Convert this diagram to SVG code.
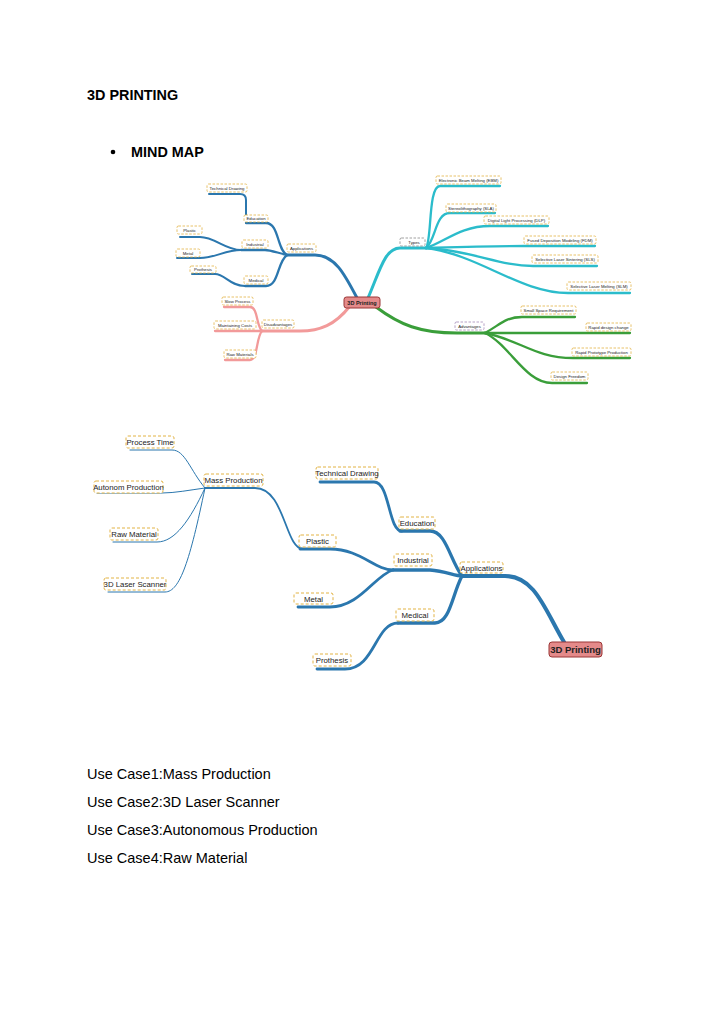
<svg xmlns="http://www.w3.org/2000/svg" width="724" height="1024" viewBox="0 0 724 1024">
<style>
.doc{font-family:"Liberation Sans",Arial,sans-serif;fill:#000}
.h{font-size:14.4px;font-weight:bold}
.p{font-size:14.5px}
.ln{fill:none;stroke-linecap:round}
.b{stroke:#2b77ae}
.c{stroke:#2bbccb}
.g{stroke:#3a9e3a}
.r{stroke:#f29a9a}
.lb rect{fill:#fff;stroke:#e2b345;stroke-width:0.8;stroke-dasharray:2.5 1.5}
.lb text{font-family:"Liberation Sans",Arial,sans-serif;fill:#222;text-anchor:middle}
.s text{font-size:4.3px}
.L text{font-size:7.8px}
.L rect{stroke-width:1;stroke-dasharray:3 2}
.ct rect{fill:#e48a8a;stroke:#9a3636}
.ct text{font-family:"Liberation Sans",Arial,sans-serif;font-weight:bold;fill:#222;text-anchor:middle}
</style>
<rect width="724" height="1024" fill="#fff"/>
<g id="header">
<text class="doc h" x="87" y="100">3D PRINTING</text>
<circle cx="113" cy="152" r="2.3" fill="#000"/>
<text class="doc h" x="131" y="157">MIND MAP</text>
</g>
<g id="connectors-top">
<path class="ln b" stroke-width="3" d="M357,298 C345,275 335,255 315,255 L287,255"/>
<path class="ln b" stroke-width="2.3" d="M287,255 C277,250 279,223 266,223 L246,223"/>
<path class="ln b" stroke-width="2" d="M246,223 L246,200 Q246,194 240,194 L209,194"/>
<path class="ln b" stroke-width="2.3" d="M287,255 C275,252 270,250 265,250 L241,250"/>
<path class="ln b" stroke-width="2" d="M241,250 C225,250 215,237 200,237 L180,237"/>
<path class="ln b" stroke-width="2" d="M241,250 C225,250 215,258 200,258 L177,258"/>
<path class="ln b" stroke-width="2.3" d="M287,255 C277,262 279,286 266,286 L245,286"/>
<path class="ln b" stroke-width="2" d="M245,286 C230,286 225,274 215,274 L192,274"/>
<path class="ln r" stroke-width="3" d="M350,306 C335,325 320,331 300,331 L262,331"/>
<path class="ln r" stroke-width="2.3" d="M262,331 C256,325 258,307 250,307 L224,307"/>
<path class="ln r" stroke-width="2.3" d="M262,331 L215,331"/>
<path class="ln r" stroke-width="2.3" d="M262,331 C256,337 258,360 250,360 L225,360"/>
<path class="ln c" stroke-width="3" d="M368,298 C380,270 385,248 400,248 L426,248"/>
<path class="ln c" stroke-width="2.3" d="M426,248 C432,240 428,186 440,186 L500,186"/>
<path class="ln c" stroke-width="2.3" d="M426,248 C436,240 435,213 450,213 L495,213"/>
<path class="ln c" stroke-width="2.3" d="M426,248 C445,242 460,226 490,226 L548,226"/>
<path class="ln c" stroke-width="2.3" d="M426,248 C460,247 490,246 525,246 L595,246"/>
<path class="ln c" stroke-width="2.3" d="M426,248 C470,250 500,266 533,266 L597,266"/>
<path class="ln c" stroke-width="2.3" d="M426,248 C480,255 520,293 568,293 L630,293"/>
<path class="ln g" stroke-width="3" d="M376,307 C400,325 420,333 457,333 L485,333"/>
<path class="ln g" stroke-width="2.3" d="M485,333 C500,325 505,317 522,317 L575,317"/>
<path class="ln g" stroke-width="2.3" d="M485,333 L630,333"/>
<path class="ln g" stroke-width="2.3" d="M485,333 C520,340 535,358 573,358 L630,358"/>
<path class="ln g" stroke-width="2.3" d="M485,333 C510,345 525,383 552,383 L587,383"/>
</g>
<g id="t-center" class="ct"><rect x="344" y="297" width="36" height="11" rx="2.5"/><text x="362" y="304.5" font-size="5.5">3D Printing</text></g>
<g id="t-applications" class="lb s"><rect x="287" y="244" width="29" height="8" rx="1.5"/><text x="301.5" y="249.6">Applications</text></g>
<g id="t-education" class="lb s"><rect x="244" y="215" width="24" height="7" rx="1.5"/><text x="256" y="220">Education</text></g>
<g id="t-techdraw" class="lb s"><rect x="207" y="184" width="40" height="8" rx="1.5"/><text x="227" y="189.6">Technical Drawing</text></g>
<g id="t-industrial" class="lb s"><rect x="242" y="240" width="26" height="8" rx="1.5"/><text x="255" y="245.6">Industrial</text></g>
<g id="t-plastic" class="lb s"><rect x="177" y="226" width="25" height="8" rx="1.5"/><text x="189.5" y="231.6">Plastic</text></g>
<g id="t-metal" class="lb s"><rect x="176" y="249" width="24" height="8" rx="1.5"/><text x="188" y="254.6">Metal</text></g>
<g id="t-prothesis" class="lb s"><rect x="190" y="266" width="26" height="7" rx="1.5"/><text x="203" y="271">Prothesis</text></g>
<g id="t-medical" class="lb s"><rect x="244" y="276" width="24" height="8" rx="1.5"/><text x="256" y="281.6">Medical</text></g>
<g id="t-disadv" class="lb s"><rect x="262" y="320" width="32" height="8" rx="1.5"/><text x="278" y="325.6">Disadvantages</text></g>
<g id="t-slow" class="lb s"><rect x="222" y="297" width="31" height="8" rx="1.5"/><text x="237.5" y="302.6">Slow Process</text></g>
<g id="t-maint" class="lb s"><rect x="214" y="321" width="42" height="8" rx="1.5"/><text x="235" y="326.6">Maintaining Costs</text></g>
<g id="t-raw" class="lb s"><rect x="224" y="350" width="32" height="8" rx="1.5"/><text x="240" y="355.6">Raw Materials</text></g>
<g id="t-types" class="lb s"><rect x="400" y="238" width="25" height="8" rx="1.5" style="stroke:#888"/><text x="414" y="243.6">Types</text></g>
<g id="t-ebm" class="lb s"><rect x="436" y="176" width="65" height="8" rx="1.5"/><text x="468.5" y="181.6">Electronic Beam Melting (EBM)</text></g>
<g id="t-sla" class="lb s"><rect x="446" y="204" width="50" height="8" rx="1.5"/><text x="471" y="209.6">Stereolithography (SLA)</text></g>
<g id="t-dlp" class="lb s"><rect x="484" y="216" width="65" height="8" rx="1.5"/><text x="516.5" y="221.6">Digital Light Processing (DLP)</text></g>
<g id="t-fdm" class="lb s"><rect x="524" y="236" width="72" height="8" rx="1.5"/><text x="560" y="241.6">Fused Deposition Modeling (FDM)</text></g>
<g id="t-sls" class="lb s"><rect x="532" y="255" width="66" height="8" rx="1.5"/><text x="565" y="260.6">Selective Laser Sintering (SLS)</text></g>
<g id="t-slm" class="lb s"><rect x="567" y="282" width="64" height="8" rx="1.5"/><text x="599" y="287.6">Selective Laser Melting (SLM)</text></g>
<g id="t-adv" class="lb s"><rect x="455" y="322" width="29" height="8" rx="1.5" style="stroke:#a58ab8"/><text x="469.5" y="327.6">Advantages</text></g>
<g id="t-small" class="lb s"><rect x="521" y="306" width="55" height="8" rx="1.5"/><text x="548.5" y="311.6">Small Space Requirement</text></g>
<g id="t-rdc" class="lb s"><rect x="586" y="323" width="45" height="8" rx="1.5"/><text x="608.5" y="328.6">Rapid design change</text></g>
<g id="t-rpp" class="lb s"><rect x="572" y="348" width="59" height="8" rx="1.5"/><text x="601.5" y="353.6">Rapid Prototype Production</text></g>
<g id="t-freedom" class="lb s"><rect x="551" y="372" width="37" height="8" rx="1.5"/><text x="569.5" y="377.6">Design Freedom</text></g>
<g id="connectors-bottom">
<path class="ln b" stroke-width="4" d="M564,642 C545,610 535,576 505,576 L462,576"/>
<path class="ln b" stroke-width="3.3" d="M400,531 L430,531 C446,531 450,560 462,576"/>
<path class="ln b" stroke-width="2.8" d="M320,482 L374,482 C390,482 388,531 402,531"/>
<path class="ln b" stroke-width="3.3" d="M393,570 L430,570 C445,571 455,576 462,576"/>
<path class="ln b" stroke-width="2.8" d="M300,549 L330,549 C360,549 375,570 393,570"/>
<path class="ln b" stroke-width="2.8" d="M298,607 L330,607 C360,607 375,575 393,570"/>
<path class="ln b" stroke-width="3.3" d="M462,576 C452,595 450,623 435,623 L398,623"/>
<path class="ln b" stroke-width="2.8" d="M317,669 L345,669 C375,669 375,623 398,623"/>
<path class="ln b" stroke-width="1.8" d="M205,488 L255,488 C285,488 285,549 303,549"/>
<path class="ln b" stroke-width="1" d="M205,488 C190,470 185,450 172,450 L130,450"/>
<path class="ln b" stroke-width="1" d="M205,488 C190,490 175,493 162,493 L97,493"/>
<path class="ln b" stroke-width="1" d="M205,488 C190,520 175,542 157,542 L113,542"/>
<path class="ln b" stroke-width="1" d="M205,488 C190,560 180,592 165,592 L108,592"/>
</g>
<g id="b-center" class="ct"><rect x="549" y="642" width="53" height="15" rx="3"/><text x="575.5" y="652.5" font-size="9.5">3D Printing</text></g>
<g id="b-applications" class="lb L"><rect x="460" y="562" width="43" height="11" rx="2"/><text x="481.5" y="570.5">Applications</text></g>
<g id="b-education" class="lb L"><rect x="399" y="517" width="36" height="12" rx="2"/><text x="417" y="526">Education</text></g>
<g id="b-techdraw" class="lb L"><rect x="316" y="467" width="62" height="12" rx="2"/><text x="347" y="476">Technical Drawing</text></g>
<g id="b-industrial" class="lb L"><rect x="394" y="554" width="38" height="12" rx="2"/><text x="413" y="563">Industrial</text></g>
<g id="b-plastic" class="lb L"><rect x="299" y="535" width="37" height="12" rx="2"/><text x="317.5" y="544">Plastic</text></g>
<g id="b-metal" class="lb L"><rect x="294" y="593" width="39" height="11" rx="2"/><text x="313.5" y="601.5">Metal</text></g>
<g id="b-medical" class="lb L"><rect x="396" y="609" width="38" height="12" rx="2"/><text x="415" y="618">Medical</text></g>
<g id="b-prothesis" class="lb L"><rect x="313" y="654" width="38" height="12" rx="2"/><text x="332" y="663">Prothesis</text></g>
<g id="b-mass" class="lb L"><rect x="204" y="474" width="59" height="12" rx="2"/><text x="233.5" y="483">Mass Production</text></g>
<g id="b-process" class="lb L"><rect x="126" y="436" width="48" height="12" rx="2"/><text x="150" y="445">Process Time</text></g>
<g id="b-autonom" class="lb L"><rect x="94" y="481" width="69" height="12" rx="2"/><text x="128.5" y="490">Autonom Production</text></g>
<g id="b-raw" class="lb L"><rect x="110" y="528" width="48" height="12" rx="2"/><text x="134" y="537">Raw Material</text></g>
<g id="b-scanner" class="lb L"><rect x="104" y="578" width="62" height="12" rx="2"/><text x="135" y="587">3D Laser Scanner</text></g>
<g id="usecases">
<text class="doc p" x="87" y="779">Use Case1:Mass Production</text>
<text class="doc p" x="87" y="807">Use Case2:3D Laser Scanner</text>
<text class="doc p" x="87" y="835">Use Case3:Autonomous Production</text>
<text class="doc p" x="87" y="863">Use Case4:Raw Material</text>
</g>
</svg>
